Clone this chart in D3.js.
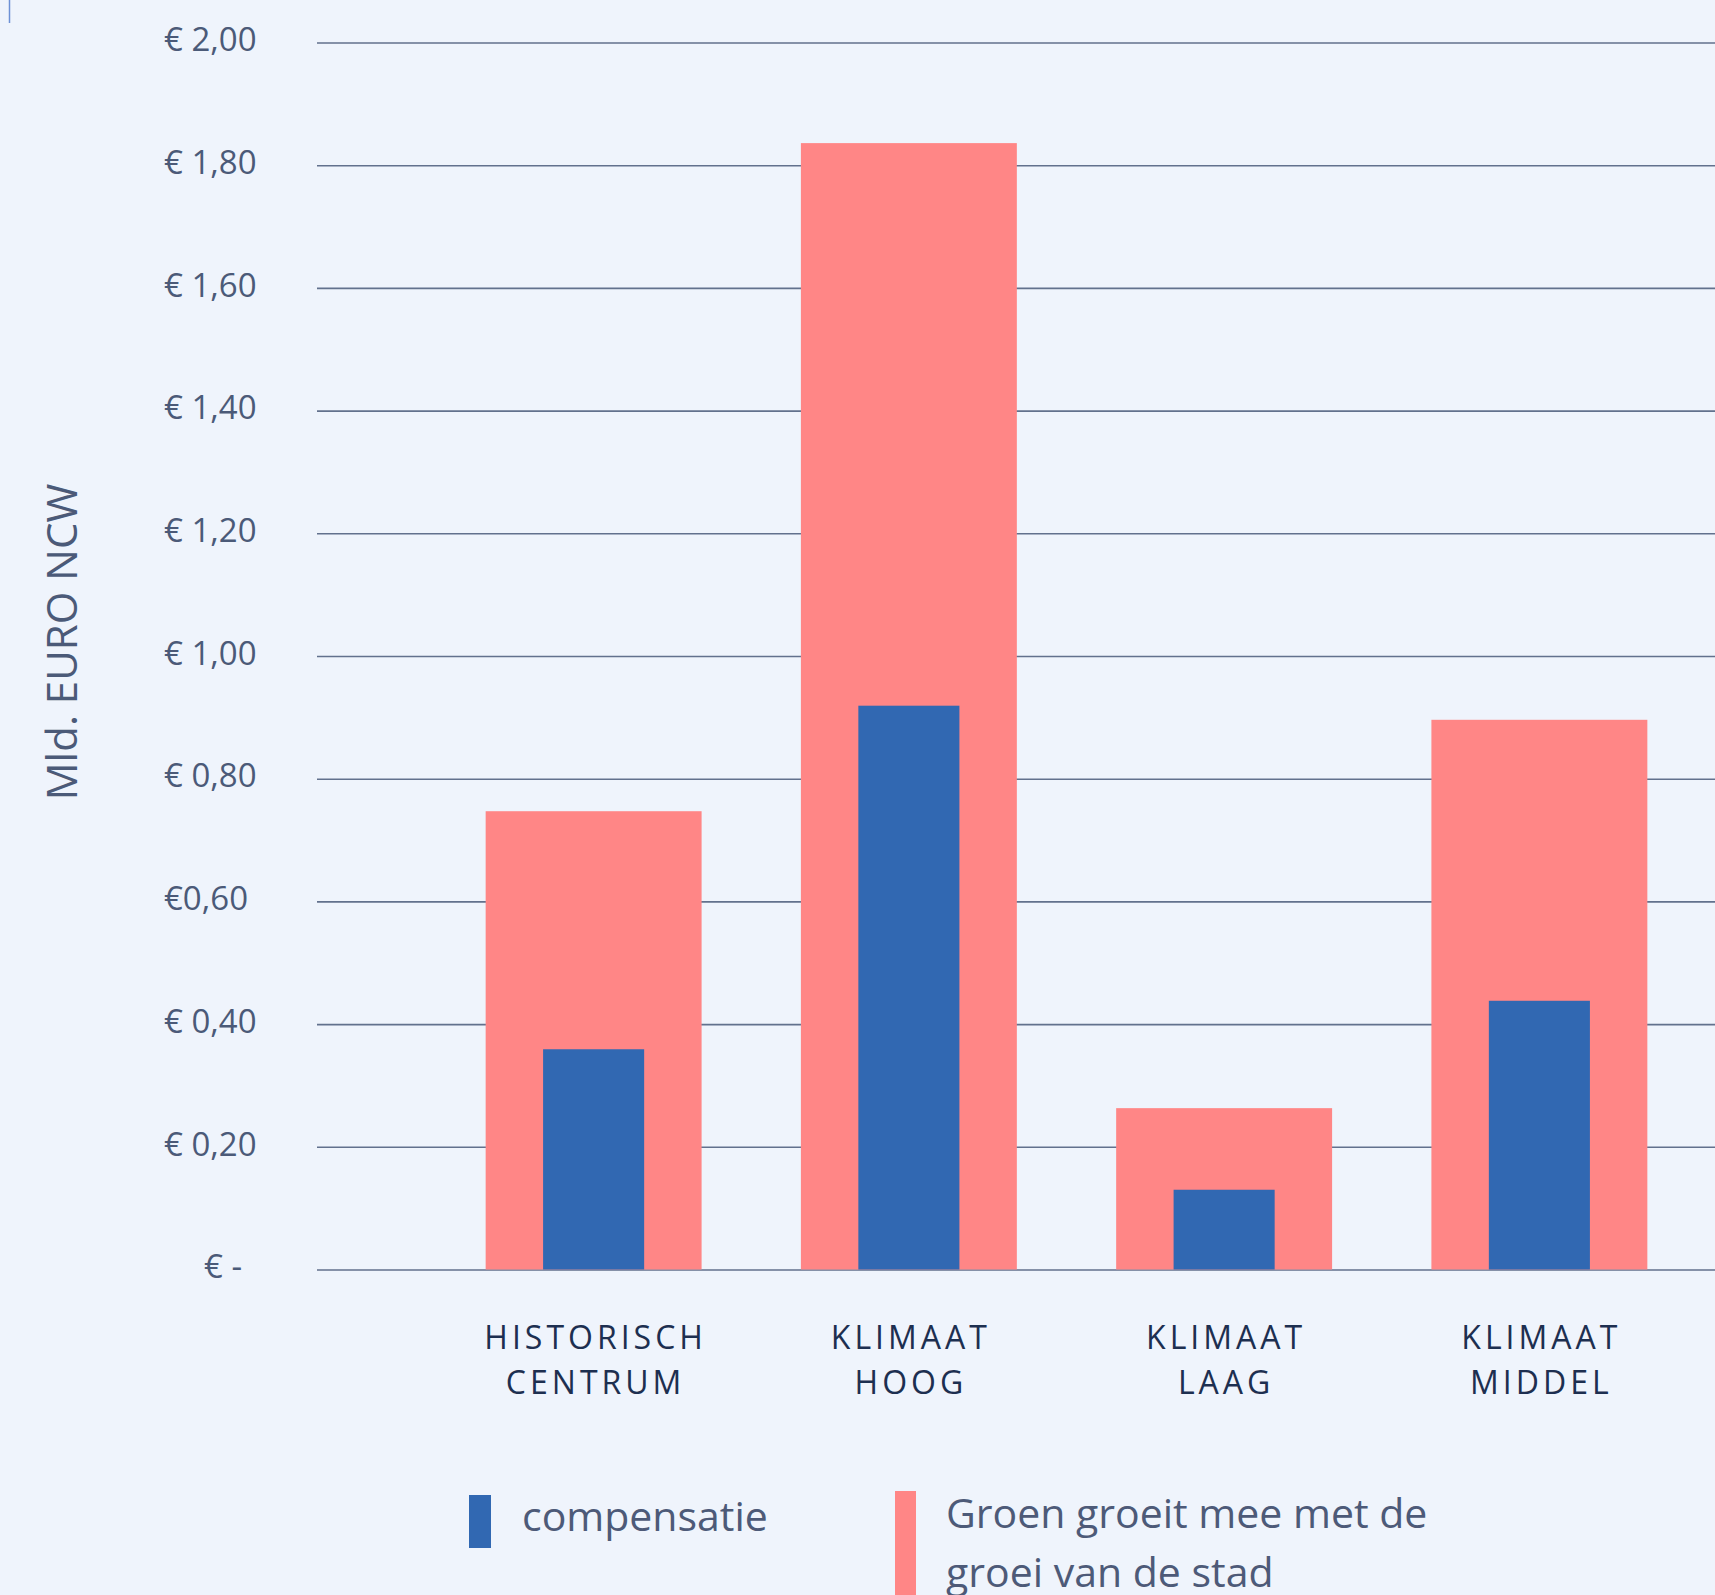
<!DOCTYPE html>
<html>
<head>
<meta charset="utf-8">
<script src="https://cdn.jsdelivr.net/npm/d3@7/dist/d3.min.js"></script>
<style>
    html, body { margin: 0; padding: 0; background: #eff4fc; }
    svg { display: block; }
</style>
</head>
<body>
<div id="container"><svg></svg></div>
<script>
let width = 1715;
let height = 1595;

// data
let categories = ["HISTORISCH CENTRUM", "KLIMAAT HOOG", "KLIMAAT LAAG", "KLIMAAT MIDDEL"];
let groen = [0.747, 1.836, 0.263, 0.896];        // Groen groeit mee met de groei van de stad
let compensatie = [0.359, 0.919, 0.130, 0.438];
let tickValues = [0, 0.2, 0.4, 0.6, 0.8, 1.0, 1.2, 1.4, 1.6, 1.8, 2.0];
let tickLabels = ["€ -", "€ 0,20", "€ 0,40", "€0,60", "€ 0,80", "€ 1,00", "€ 1,20", "€ 1,40", "€ 1,60", "€ 1,80", "€ 2,00"];
let legendLabels = [["compensatie"], ["Groen groeit mee met de", "groei van de stad"]];

let colors = { blue: "#3168b2", pink: "#ff8686" };
let font = "'Open Sans', 'Noto Sans', sans-serif";

function draw_chart() {
    let svg = d3.select('#container')
        .select('svg')
        .attr('width', width)
        .attr('height', height)
        .style('background', '#eff4fc');

    let left = 317, right = width;

    let y = d3.scaleLinear()
        .domain([0, 2])
        .range([1269.5, 42.5]);

    let x = d3.scaleBand()
        .domain(categories)
        .range([436, 1697])
        .paddingInner(0.315)
        .paddingOuter(0.1575);

    // gridlines + tick labels
    let yAxis = svg.append("g")
        .attr("transform", `translate(${left},0)`)
        .call(d3.axisLeft(y)
            .tickValues(tickValues)
            .tickSize(-(right - left))
            .tickFormat((d, i) => tickLabels[i]));
    yAxis.select(".domain").remove();
    yAxis.selectAll(".tick line")
        .attr("stroke", "#62718d")
        .attr("stroke-width", 1.6);
    yAxis.selectAll(".tick text")
        .attr("text-anchor", "start")
        .attr("x", (d, i) => i == 0 ? -113 : -153)
        .attr("dy", "0.25em")
        .attr("fill", "#4b5a78")
        .style("font-family", font)
        .style("font-size", "33px");

    // y axis title
    svg.append("text")
        .attr("transform", "translate(77,642) rotate(-90)")
        .attr("text-anchor", "middle")
        .attr("fill", "#4b5a78")
        .style("font-family", font)
        .style("font-size", "42px")
        .text("Mld. EURO NCW");

    // pink bars
    svg.append("g")
        .selectAll("rect")
        .data(categories)
        .join("rect")
        .attr("x", d => x(d))
        .attr("width", x.bandwidth())
        .attr("y", (d, i) => y(groen[i]))
        .attr("height", (d, i) => y(0) - y(groen[i]))
        .attr("fill", colors.pink);

    // blue bars
    let inner = x.bandwidth() * 0.468;
    svg.append("g")
        .selectAll("rect")
        .data(categories)
        .join("rect")
        .attr("x", d => x(d) + (x.bandwidth() - inner) / 2)
        .attr("width", inner)
        .attr("y", (d, i) => y(compensatie[i]))
        .attr("height", (d, i) => y(0) - y(compensatie[i]))
        .attr("fill", colors.blue);

    // category labels
    let catLabel = svg.append("g")
        .selectAll("text")
        .data(categories)
        .join("text")
        .attr("text-anchor", "middle")
        .attr("fill", "#1d2f50")
        .style("font-family", font)
        .style("font-size", "32px")
        .style("letter-spacing", "4px");
    catLabel.selectAll("tspan")
        .data(d => d.split(" "))
        .join("tspan")
        .attr("x", function () { let c = d3.select(this.parentNode).datum(); return x(c) + x.bandwidth() / 2 + 2; })
        .attr("y", (d, i) => 1349 + i * 45)
        .text(d => d);

    // legend
    let legend = svg.append("g");
    legend.append("rect")
        .attr("x", 469).attr("y", 1495).attr("width", 22).attr("height", 53)
        .attr("fill", colors.blue);
    legend.append("rect")
        .attr("x", 895).attr("y", 1491).attr("width", 21).attr("height", 110)
        .attr("fill", colors.pink);
    let legendX = [522, 946];
    let legendY = [1531, 1528];
    legendLabels.forEach((lines, k) => {
        legend.append("text")
            .attr("fill", "#4d5a78")
            .style("font-family", font)
            .style("font-size", "41px")
            .selectAll("tspan")
            .data(lines)
            .join("tspan")
            .attr("x", legendX[k])
            .attr("y", (d, i) => legendY[k] + i * 59)
            .text(d => d);
    });

    // little mark at the top left corner
    svg.append("line")
        .attr("x1", 9.5).attr("x2", 9.5).attr("y1", 0).attr("y2", 23)
        .attr("stroke", "#6d91d6")
        .attr("stroke-width", 1.5);
}

draw_chart();
</script>
</body>
</html>
